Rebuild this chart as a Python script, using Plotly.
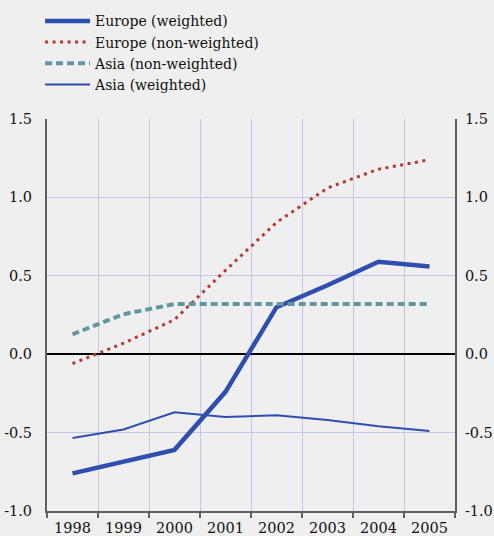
import plotly.graph_objects as go

years = ["1998", "1999", "2000", "2001", "2002", "2003", "2004", "2005"]
europe_weighted = [-0.76, -0.685, -0.61, -0.24, 0.30, 0.44, 0.59, 0.56]
europe_nonweighted = [-0.06, 0.07, 0.22, 0.535, 0.84, 1.06, 1.18, 1.24]
asia_nonweighted = [0.127, 0.255, 0.32, 0.32, 0.32, 0.32, 0.32, 0.32]
asia_weighted = [-0.535, -0.48, -0.37, -0.40, -0.39, -0.42, -0.46, -0.49]
y_ticks = [-1.0, -0.5, 0.0, 0.5, 1.0, 1.5]
y_ticktext = ["-1.0", "-0.5", "0.0", "0.5", "1.0", "1.5"]

BLUE = "#2f4fae"
RED = "#b5392c"
TEAL = "#6396a3"
FONT = "DejaVu Serif"
TICK_SIZE = 14.5
LEGEND_SIZE = 14

fig = go.Figure()
fig.add_trace(go.Scatter(x=years, y=europe_weighted, mode="lines", name="Europe (weighted)",
                         line=dict(color=BLUE, width=4.5)))
fig.add_trace(go.Scatter(x=years, y=europe_nonweighted, mode="lines", name="Europe (non-weighted)",
                         line=dict(color=RED, width=3, dash="3px,4.5px")))
fig.add_trace(go.Scatter(x=years, y=asia_nonweighted, mode="lines", name="Asia (non-weighted)",
                         line=dict(color=TEAL, width=4, dash="7px,4px")))
fig.add_trace(go.Scatter(x=years, y=asia_weighted, mode="lines", name="Asia (weighted)",
                         line=dict(color=BLUE, width=2), yaxis="y2"))

yax = dict(range=[-1.0, 1.5], tickvals=y_ticks, ticktext=y_ticktext,
           showgrid=True, gridcolor="#c4c7ea", gridwidth=1,
           showline=True, linecolor="#5f5f5f", linewidth=2,
           ticks="", tickfont=dict(family=FONT, size=TICK_SIZE, color="#111"),
           zeroline=True, zerolinecolor="#000", zerolinewidth=1.5,
           ticklabelstandoff=10, automargin=False)

fig.update_layout(
    width=494, height=536,
    margin=dict(l=47, r=39, t=119, b=25, autoexpand=False),
    paper_bgcolor="#efefef", plot_bgcolor="#efefef",
    font=dict(family=FONT, size=TICK_SIZE, color="#111"),
    xaxis=dict(type="category", tickson="boundaries", showgrid=True, gridcolor="#c4c7ea",
               gridwidth=1, showline=True, linecolor="#5f5f5f", linewidth=2,
               ticks="outside", ticklen=5, tickcolor="#5f5f5f", tickwidth=2,
               tickfont=dict(family=FONT, size=TICK_SIZE, color="#111"),
               range=[-0.5, 7.5], zeroline=False, ticklabelstandoff=3, automargin=False),
    yaxis=yax,
    yaxis2=dict(yax, overlaying="y", side="right", anchor="x", showgrid=False,
                zeroline=False, ticklabelstandoff=5),
    legend=dict(x=-0.017, xanchor="left", y=1.29, yanchor="top",
                bgcolor="rgba(0,0,0,0)", font=dict(family=FONT, size=LEGEND_SIZE, color="#111"),
                tracegroupgap=0, itemwidth=45),
    showlegend=True,
)

fig.write_html("out.html", config={"displayModeBar": False},
               post_script="document.body.style.margin='0';document.body.style.overflow='hidden';")
